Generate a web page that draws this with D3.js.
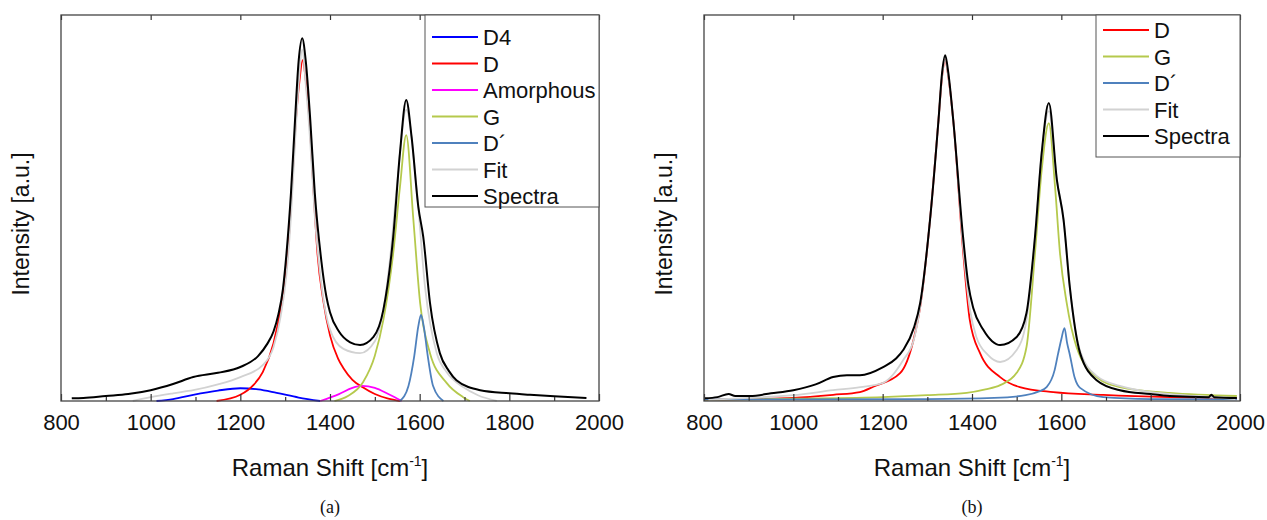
<!DOCTYPE html>
<html>
<head>
<meta charset="utf-8">
<script src="https://cdn.jsdelivr.net/npm/d3@7"></script>
<style>
  body { margin: 0; background: #fff; }
  svg { display: block; }
  text { font-family: "Liberation Sans", Arial, sans-serif; fill: #111; }
</style>
</head>
<body>
<svg id="chart" width="1267" height="520"></svg>
<script>
// Raman spectra, two fitted samples. Points are [shift in cm-1, intensity in a.u.]

const majorTicks = [800, 1000, 1200, 1400, 1600, 1800, 2000];
const minorTicks = [900, 1100, 1300, 1500, 1700, 1900];

// ---- panel (a)
const aSpectra = [[824,0.7],[850,0.8],[900,1.3],[950,1.8],[1000,2.8],[1050,4.4],[1095,6.2],[1150,7.3],
  [1200,8.8],[1240,11.7],[1260,14.8],[1274,18],[1285,22.5],[1295,29],[1303,38.3],[1313,54],[1322,72.8],
  [1330,88],[1338,94],[1346,88],[1356,72.8],[1366,54],[1381,36],[1392,27],[1400,23],[1420,18],
  [1445,15.2],[1467,14.5],[1497,16.6],[1519,23.6],[1541,42.5],[1556,64.2],[1570,78],[1582,68.4],
  [1597,50.3],[1608,42.5],[1623,25.4],[1645,12.4],[1665,7.8],[1682,5.4],[1735,2.8],[1800,2],
  [1846,1.6],[1900,1.2],[1972,0.8]];
const aFit = [[960,0],[1000,1],[1050,2],[1095,2.8],[1150,4.3],[1200,6.2],[1250,9.3],[1274,14],[1290,22],
  [1303,33],[1313,48],[1322,67],[1330,82],[1338,91],[1346,82],[1356,67],[1366,48],[1381,30],[1400,18.5],
  [1430,13.5],[1467,12.4],[1500,15.5],[1519,23.6],[1535,38],[1549,55.4],[1570,75.4],[1593,55.4],
  [1612,29.5],[1638,12.4],[1660,7.5],[1697,3.6],[1730,1.5],[1772,0]];
const aD4 = [[1013,0],[1050,0.5],[1095,1.6],[1150,2.7],[1200,3.3],[1240,3.0],[1281,2.1],[1330,0.9],[1378,0]];
const aD = [[1147,0],[1200,1.6],[1229,4.1],[1250,7.5],[1274,15],[1290,24],[1306,38.3],[1315,55],[1324,72.8],
  [1332,83],[1339,88.3],[1346,83],[1354,72.8],[1363,55],[1372,38.3],[1385,26],[1400,17],[1418,11],
  [1430,8.5],[1450,5.5],[1474,3.5],[1500,1.8],[1530,0.6],[1556,0]];
const aAmorphous = [[1378,0],[1420,1.8],[1450,3.4],[1471,3.9],[1500,3.4],[1530,1.8],[1560,0]];
const aG = [[1410,0],[1440,1.3],[1474,4.9],[1500,11.7],[1519,21],[1541,38.3],[1556,55.4],[1570,68.9],
  [1586,46.9],[1601,25.4],[1623,12.4],[1660,4.7],[1697,1],[1712,0]];
const aDprime = [[1556,0],[1575,3.9],[1588,11.7],[1597,19.4],[1603,22.3],[1609,19.4],[1618,11.7],
  [1630,3.9],[1653,0]];

// ---- panel (b)
const bSpectra = [[802,0.7],[830,1],[855,1.8],[870,1.3],[903,1.3],[950,2],[1000,2.8],[1050,4.3],
  [1089,6.2],[1120,6.7],[1149,6.7],[1201,8.8],[1230,11],[1246,13.2],[1270,19],[1284,25.4],[1306,46.9],
  [1325,72.8],[1333,85],[1340,89.6],[1347,85],[1358,72.8],[1380,42.5],[1392,30],[1403,24],
  [1425,18.5],[1445,15.5],[1463,14.5],[1500,16.6],[1522,22.8],[1541,42.5],[1556,64.2],[1572,77.2],
  [1590,57.3],[1605,46.9],[1619,29.5],[1642,12.4],[1679,5.4],[1731,2.8],[1800,1.8],[1843,1.3],
  [1930,1],[1936,1.6],[1942,1],[1993,0.8]];
const bFit = [[810,0.3],[900,0.8],[1000,1.5],[1089,2.8],[1150,3.6],[1201,4.7],[1246,10.6],[1270,16],
  [1284,24.4],[1306,46.9],[1325,72.8],[1333,84],[1340,88.3],[1347,84],[1358,72.8],[1380,40],
  [1395,24],[1410,16.5],[1435,12],[1463,10.1],[1500,13.2],[1522,21],[1541,42.5],[1556,64.2],[1572,75.1],
  [1590,57.3],[1605,46.9],[1619,29.5],[1642,13],[1679,6.5],[1731,3.9],[1800,2.3],[1843,1.8],[1936,1],
  [1990,0.5]];
const bD = [[802,0.3],[900,0.5],[1000,0.8],[1089,1.6],[1149,2.3],[1179,3.7],[1239,7.2],[1269,15.8],
  [1284,24.4],[1306,46.9],[1325,72.8],[1333,84],[1340,88.3],[1347,84],[1358,72.8],[1380,38.9],
  [1395,21],[1418,12.4],[1463,6.2],[1507,3.6],[1582,2.3],[1694,1.6],[1843,1],[1993,0.7]];
const bG = [[802,0.3],[1000,0.6],[1200,1],[1300,1.5],[1388,2.1],[1430,3],[1463,4.1],[1500,7.3],
  [1522,14],[1541,38.3],[1556,59.8],[1572,72],[1586,55.4],[1597,38.3],[1612,25.4],[1634,14],
  [1679,6.2],[1731,3.6],[1843,2.1],[1993,1.3]];
const bDprime = [[802,0.4],[1000,0.4],[1300,0.5],[1450,0.8],[1520,1.5],[1550,2.5],[1567,3.6],[1585,8],
  [1593,12.4],[1600,16],[1607,18.9],[1613,15],[1619,12],[1630,6],[1642,3.4],[1694,1],[1800,0.5],[1993,0.4]];

const colors = { D4: "#0000ff", D: "#ff0000", Amorphous: "#ff00ff", G: "#b5c94c",
  "D\u00b4": "#4f81bd", Fit: "#d2d2d2", Spectra: "#000000" };

const svg = d3.select("#chart");

function drawPanel(p)
 {
  const x = d3.scaleLinear().domain([800, 2000]).range([p.left, p.right]);
  const y = d3.scaleLinear().domain([0, 100]).range([p.bottom, p.top]);
  const g = svg.append("g");

  const line = d3.line()
    .x(d => x(d[0]))
    .y(d => y(d[1]))
    .curve(d3.curveMonotoneX);

  // components first, then fit, then the measured spectrum on top
  p.series.forEach(s => {
    g.append("path")
      .datum(s.data)
      .attr("fill", "none")
      .attr("stroke", colors[s.name])
      .attr("stroke-width", s.name === "Spectra" ? 2 : 1.8)
      .attr("stroke-linejoin", "round")
      .attr("d", line);
  });

  // bottom axis: inward ticks
  g.append("g")
    .attr("transform", `translate(0,${p.bottom})`)
    .call(d3.axisBottom(x).tickValues(majorTicks).tickSize(-7).tickSizeOuter(0)
      .tickPadding(13).tickFormat(d3.format("d")))
    .call(a => a.select(".domain").remove())
    .call(a => a.selectAll("text").attr("font-size", 22).attr("fill", "#111")
      .style("font-family", "'Liberation Sans', Arial, sans-serif"));
  g.append("g")
    .attr("transform", `translate(0,${p.bottom})`)
    .call(d3.axisBottom(x).tickValues(minorTicks).tickSize(-4).tickSizeOuter(0).tickFormat(""))
    .call(a => a.select(".domain").remove());

  // top axis ticks
  g.append("g")
    .attr("transform", `translate(0,${p.top})`)
    .call(d3.axisTop(x).tickValues(majorTicks).tickSize(-5).tickSizeOuter(0).tickFormat(""))
    .call(a => a.select(".domain").remove());

  g.selectAll(".tick line").attr("stroke", "#333").attr("stroke-width", 1.2);

  // frame
  g.append("rect")
    .attr("x", p.left).attr("y", p.top)
    .attr("width", p.right - p.left).attr("height", p.bottom - p.top)
    .attr("fill", "none").attr("stroke", "#444").attr("stroke-width", 1.3);

  // axis titles
  const cx = (p.left + p.right) / 2;
  const xt = g.append("text")
    .attr("x", cx).attr("y", 476)
    .attr("text-anchor", "middle")
    .attr("font-size", 24);
  xt.append("tspan").text("Raman Shift [cm");
  xt.append("tspan").attr("font-size", 14).attr("dy", -10).text("-1");
  xt.append("tspan").attr("dy", 10).text("]");

  g.append("text")
    .attr("transform", `translate(${p.left - 32},${(p.top + p.bottom) / 2 + 16}) rotate(-90)`)
    .attr("text-anchor", "middle")
    .attr("font-size", 23)
    .text("Intensity [a.u.]");

  g.append("text")
    .attr("x", cx).attr("y", 513)
    .attr("text-anchor", "middle")
    .attr("font-size", 18)
    .style("font-family", "'Liberation Serif', 'DejaVu Serif', serif")
    .text(p.label);

  // legend
  const lg = g.append("g");
  lg.append("rect")
    .attr("x", p.legend.x).attr("y", p.top)
    .attr("width", p.right - p.legend.x).attr("height", p.legend.h)
    .attr("fill", "#fff").attr("stroke", "#555").attr("stroke-width", 1);
  p.legendOrder.forEach((name, i) => {
    const yy = p.legend.y0 + i * 26.5;
    lg.append("line")
      .attr("x1", p.legend.x + 7).attr("x2", p.legend.x + 53)
      .attr("y1", yy).attr("y2", yy)
      .attr("stroke", colors[name]).attr("stroke-width", 2);
    lg.append("text")
      .attr("x", p.legend.x + 58).attr("y", yy + 8)
      .attr("font-size", 22)
      .text(name);
  });
 }

drawPanel({
  left: 61, right: 599, top: 15, bottom: 401, label: "(a)",
  series: [
    { name: "D4", data: aD4 }, { name: "D", data: aD }, { name: "Amorphous", data: aAmorphous },
    { name: "G", data: aG }, { name: "D\u00b4", data: aDprime },
    { name: "Fit", data: aFit }, { name: "Spectra", data: aSpectra }
  ],
  legend: { x: 425, y0: 37, h: 192 },
  legendOrder: ["D4", "D", "Amorphous", "G", "D\u00b4", "Fit", "Spectra"]
});

drawPanel({
  left: 704, right: 1240, top: 15, bottom: 401, label: "(b)",
  series: [
    { name: "D", data: bD }, { name: "G", data: bG }, { name: "D\u00b4", data: bDprime },
    { name: "Fit", data: bFit }, { name: "Spectra", data: bSpectra }
  ],
  legend: { x: 1096, y0: 30, h: 142 },
  legendOrder: ["D", "G", "D\u00b4", "Fit", "Spectra"]
});
</script>
</body>
</html>
